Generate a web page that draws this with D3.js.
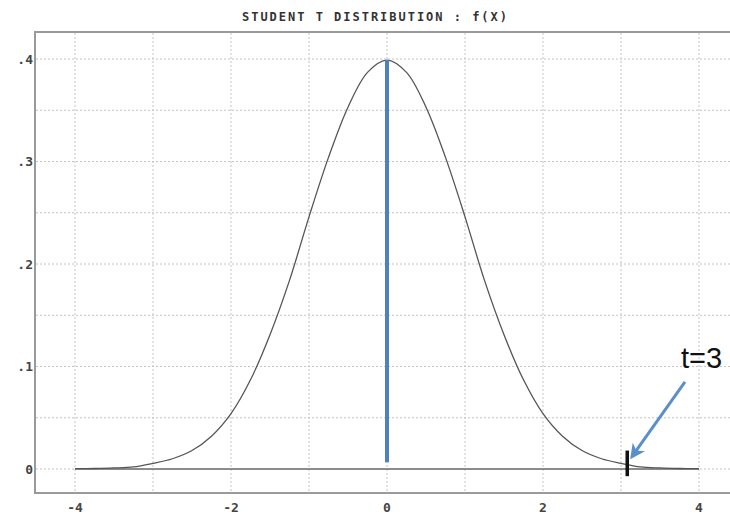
<!DOCTYPE html>
<html lang="en">
	<head>
		<meta charset="UTF-8" />
		<title>Student T Distribution</title>
		<script src="https://d3js.org/d3.v7.min.js"></script>
	</head>
	<style>
		body {
			margin: 0;
			background: #fff;
		}
		.tick-label {
			font-family: "DejaVu Sans Mono", monospace;
			font-weight: bold;
			font-size: 13px;
			fill: #444;
		}
	</style>
	<body>
		<svg id="chart"></svg>
		<script>
			// density values, x from -4 to 4 in steps of 0.25
			const xs = [
				-4, -3.75, -3.5, -3.25, -3, -2.75, -2.5, -2.25, -2, -1.75, -1.5, -1.25,
				-1, -0.75, -0.5, -0.25, 0, 0.25, 0.5, 0.75, 1, 1.25, 1.5, 1.75, 2, 2.25,
				2.5, 2.75, 3, 3.25, 3.5, 3.75, 4,
			];
			const fx = [
				0.0003, 0.0005, 0.001, 0.002, 0.0055, 0.01, 0.018, 0.032, 0.054, 0.087,
				0.131, 0.184, 0.246, 0.304, 0.353, 0.387, 0.399, 0.387, 0.353, 0.304,
				0.246, 0.184, 0.131, 0.087, 0.054, 0.032, 0.018, 0.01, 0.0055, 0.002,
				0.001, 0.0005, 0.0003,
			];
			const xTicks = [-4, -2, 0, 2, 4];
			const xGrid = [-4, -3, -2, -1, 0, 1, 2, 3, 4];
			const yTicks = [0, 0.1, 0.2, 0.3, 0.4];
			const yTickLabels = ["0", ".1", ".2", ".3", ".4"];
			const yGrid = [0, 0.05, 0.1, 0.15, 0.2, 0.25, 0.3, 0.35, 0.4];
			const tMark = 3.08;
			const arrowFrom = [3.82, 0.085];
			const arrowTo = [3.14, 0.012];

			const width = 730;
			const height = 514;

			const x = d3.scaleLinear().domain([-4, 4]).range([75, 699]);
			const y = d3.scaleLinear().domain([0, 0.4]).range([469, 59]);

			const svg = d3
				.select("#chart")
				.attr("width", width)
				.attr("height", height);

			// grid
			svg
				.append("g")
				.selectAll("line")
				.data(yGrid)
				.join("line")
				.attr("x1", 36)
				.attr("x2", width)
				.attr("y1", (d) => y(d))
				.attr("y2", (d) => y(d))
				.attr("stroke", "#c4c4c4")
				.attr("stroke-dasharray", "2,2");

			svg
				.append("g")
				.selectAll("line")
				.data(xGrid)
				.join("line")
				.attr("x1", (d) => x(d))
				.attr("x2", (d) => x(d))
				.attr("y1", 33)
				.attr("y2", 492)
				.attr("stroke", "#c4c4c4")
				.attr("stroke-dasharray", "2,2");

			// frame
			svg
				.append("path")
				.attr("d", `M${width},32H35V493H${width}`)
				.attr("fill", "none")
				.attr("stroke", "#9a9a9a")
				.attr("stroke-width", 2);

			// baseline
			svg
				.append("line")
				.attr("x1", x(-4))
				.attr("x2", x(4))
				.attr("y1", y(0))
				.attr("y2", y(0))
				.attr("stroke", "#8c8c8c")
				.attr("stroke-width", 2);

			// density curve
			const line = d3
				.line()
				.x((d, i) => x(xs[i]))
				.y((d) => y(d))
				.curve(d3.curveCatmullRom);

			svg
				.append("path")
				.datum(fx)
				.attr("d", line)
				.attr("fill", "none")
				.attr("stroke", "#555")
				.attr("stroke-width", 1.3);

			// blue line at the mean
			svg
				.append("line")
				.attr("x1", x(0))
				.attr("x2", x(0))
				.attr("y1", y(0.399))
				.attr("y2", y(0.0065))
				.attr("stroke", "#4f81bd")
				.attr("stroke-width", 4);

			// axis labels
			svg
				.append("g")
				.selectAll("text")
				.data(yTicks)
				.join("text")
				.attr("class", "tick-label")
				.attr("x", 33)
				.attr("y", (d) => y(d))
				.attr("dy", "0.35em")
				.attr("text-anchor", "end")
				.text((d, i) => yTickLabels[i]);

			svg
				.append("g")
				.selectAll("text")
				.data(xTicks)
				.join("text")
				.attr("class", "tick-label")
				.attr("x", (d) => x(d))
				.attr("y", 507)
				.attr("dy", "0.35em")
				.attr("text-anchor", "middle")
				.text((d) => d);

			// title
			svg
				.append("text")
				.attr("x", 242)
				.attr("y", 21)
				.attr("textLength", 265)
				.attr("lengthAdjust", "spacing")
				.style("font-family", "'DejaVu Sans Mono', monospace")
				.style("font-weight", "bold")
				.style("font-size", "12px")
				.style("fill", "#333")
				.text("STUDENT T DISTRIBUTION : f(X)");

			// t=3 marker
			svg
				.append("line")
				.attr("x1", x(tMark))
				.attr("x2", x(tMark))
				.attr("y1", y(0.018))
				.attr("y2", y(-0.007))
				.attr("stroke", "#111")
				.attr("stroke-width", 3.5);

			svg
				.append("defs")
				.append("marker")
				.attr("id", "head")
				.attr("viewBox", "0 0 10 10")
				.attr("refX", 8)
				.attr("refY", 5)
				.attr("markerWidth", 5)
				.attr("markerHeight", 5)
				.attr("orient", "auto")
				.append("path")
				.attr("d", "M0,0L10,5L0,10L3,5Z")
				.attr("fill", "#5b8fc9");

			svg
				.append("line")
				.attr("x1", x(arrowFrom[0]))
				.attr("y1", y(arrowFrom[1]))
				.attr("x2", x(arrowTo[0]))
				.attr("y2", y(arrowTo[1]))
				.attr("stroke", "#5b8fc9")
				.attr("stroke-width", 3)
				.attr("marker-end", "url(#head)");

			svg
				.append("text")
				.attr("x", 681)
				.attr("y", 368)
				.style("font-family", "'Liberation Sans', Arial, sans-serif")
				.style("font-size", "29px")
				.style("fill", "#111")
				.text("t=3");
		</script>
	</body>
</html>
